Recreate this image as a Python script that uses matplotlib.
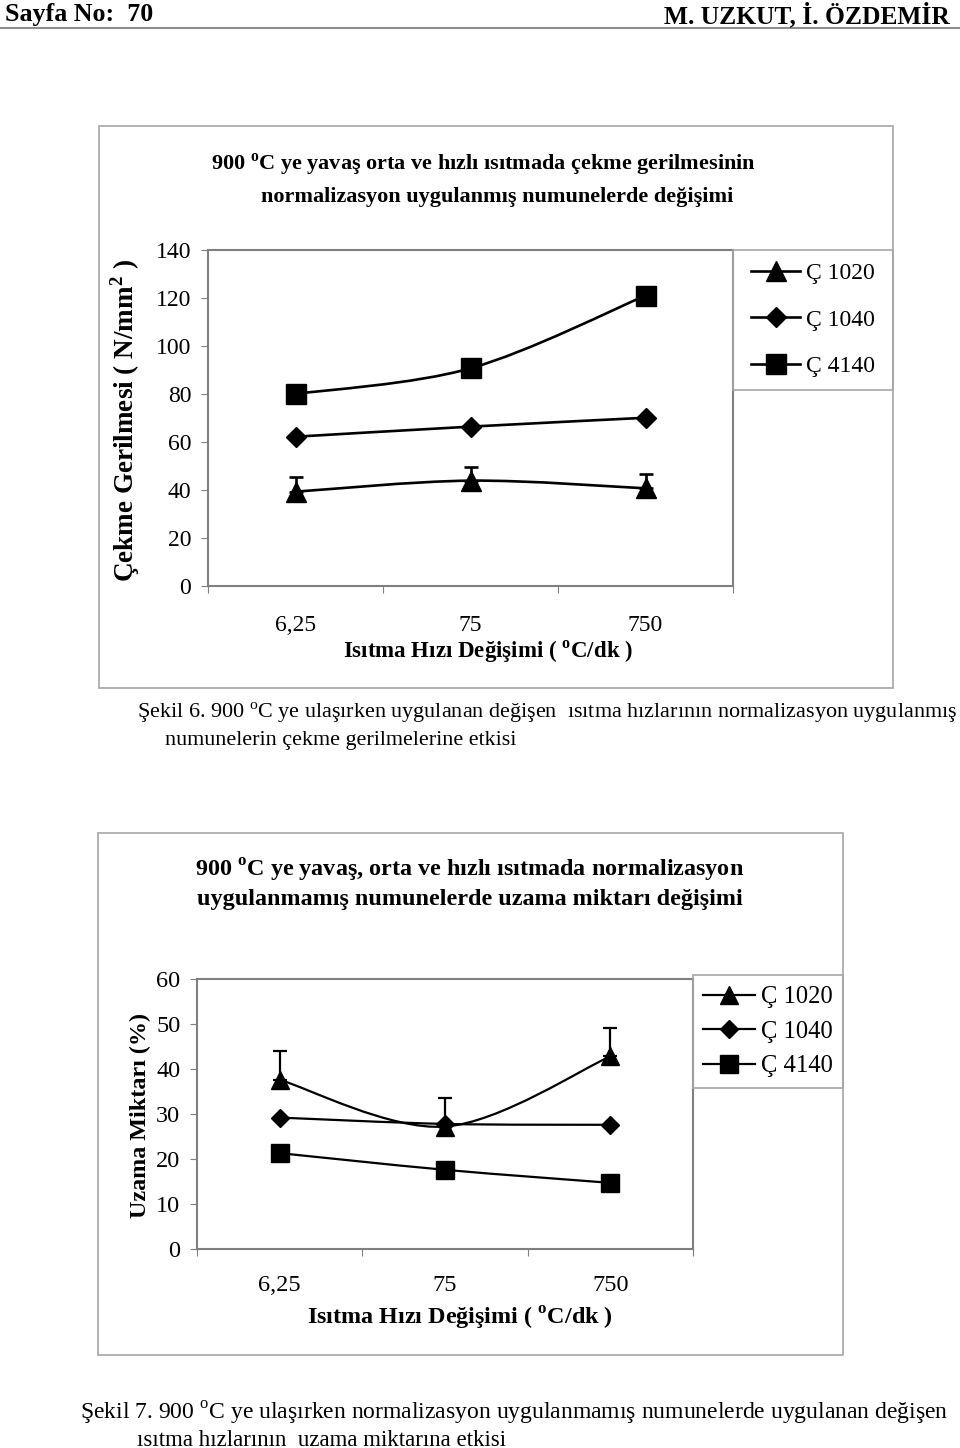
import numpy as np
import matplotlib
matplotlib.use('Agg')
import matplotlib.pyplot as plt
from matplotlib.path import Path
from matplotlib.patches import PathPatch, Rectangle
from matplotlib.lines import Line2D

plt.rcParams['font.family'] = ['Liberation Serif', 'DejaVu Serif']
plt.rcParams['mathtext.fontset'] = 'custom'
plt.rcParams['mathtext.rm'] = 'Liberation Serif'
plt.rcParams['mathtext.bf'] = 'Liberation Serif:bold'

# data
rates = ['6,25', '75', '750']
series = ['Ç 1020', 'Ç 1040', 'Ç 4140']

# Şekil 6 - tensile stress (N/mm2), normalized
c1020_stress = [39.3, 43.9, 40.7]
c1020_stress_err = [6.0, 5.8, 5.8]
c1040_stress = [62.2, 66.4, 70.1]
c4140_stress = [80.0, 90.7, 121.0]

# Şekil 7 - elongation (%), not normalized
c1020_elong = [37.6, 27.2, 42.8]
c1020_elong_err = [6.5, 6.4, 6.4]
c1040_elong = [29.2, 27.8, 27.6]
c4140_elong = [21.3, 17.6, 14.7]

W, H = 960, 1448
fig = plt.figure(figsize=(W / 100, H / 100), dpi=100)


def fx(x):
    return x / W


def fy(y):
    return 1 - y / H


def box(x0, y0, x1, y1, color='#a6a6a6', lw=1.2):
    fig.add_artist(Rectangle((fx(x0), fy(y1)), (x1 - x0) / W, (y1 - y0) / H,
                             transform=fig.transFigure, fill=False,
                             edgecolor=color, lw=lw))


def smooth(ax, xs, ys, lw):
    # excel-like smoothed line (catmull-rom as bezier)
    pts = np.column_stack([xs, ys]).astype(float)
    n = len(pts)
    verts = [pts[0]]
    codes = [Path.MOVETO]
    for i in range(n - 1):
        p0 = pts[i - 1] if i > 0 else pts[i]
        p1, p2 = pts[i], pts[i + 1]
        p3 = pts[i + 2] if i + 2 < n else p2
        verts += [p1 + (p2 - p0) / 6, p2 - (p3 - p1) / 6, p2]
        codes += [Path.CURVE4] * 3
    ax.add_patch(PathPatch(Path(verts, codes), fill=False, lw=lw,
                           edgecolor='k', zorder=2))


def make_axes(left, top, right, bottom, ymax, ystep, vals, errs, msz, lw,
              fs_tick, xlab_pad):
    ax = fig.add_axes([fx(left), fy(bottom), (right - left) / W, (bottom - top) / H])
    x = np.arange(len(rates))
    markers = ['^', 'D', 's']
    for v, m, s in zip(vals, markers, msz):
        smooth(ax, x, v, lw)
        ax.plot(x, v, ls='none', marker=m, ms=s, color='k', zorder=4)
    e = errs
    ax.errorbar(x, vals[0], yerr=[np.zeros(len(e)), e], fmt='none', ecolor='k',
                elinewidth=lw, capsize=5, capthick=lw, zorder=3)
    ax.set_xlim(-0.5, 2.5)
    ax.set_ylim(0, ymax)
    ax.set_yticks(np.arange(0, ymax + 1, ystep))
    ax.set_xticks([-0.5, 0.5, 1.5, 2.5])
    ax.set_xticklabels([])
    ax.set_xticks(x, minor=True)
    ax.set_xticklabels(rates, minor=True)
    ax.tick_params(axis='x', which='minor', length=0, pad=xlab_pad, labelsize=fs_tick)
    ax.tick_params(axis='x', which='major', length=5, color='#7f7f7f', direction='out')
    ax.tick_params(axis='y', length=5, color='#7f7f7f', labelsize=fs_tick, pad=7)
    for sp in ax.spines.values():
        sp.set_color('#7f7f7f')
        sp.set_linewidth(1.5)
    return ax


def legend(x0, y0, x1, y1, msz, lw, fs, spacing):
    box(x0, y0, x1, y1)
    handles = [Line2D([], [], color='k', lw=lw, marker=m, ms=s)
               for m, s in zip(['^', 'D', 's'], msz)]
    fig.legend(handles, series, loc='center', frameon=False, fontsize=fs,
               bbox_to_anchor=(fx((x0 + x1) / 2), fy((y0 + y1) / 2)),
               handlelength=2.1, handletextpad=0.25, labelspacing=spacing,
               borderpad=0, borderaxespad=0)


# header
fig.text(fx(5), fy(15), 'Sayfa No:  70', fontsize=18.7, fontweight='bold', va='center')
fig.text(fx(950), fy(15), 'M. UZKUT, İ. ÖZDEMİR', fontsize=18.4, fontweight='bold',
         va='center', ha='right')
fig.add_artist(Line2D([0, 1], [fy(28), fy(28)], color='#8c8c8c', lw=1.5,
                      transform=fig.transFigure))

# --- Şekil 6 ---
box(99, 126, 893, 688)
fig.text(fx(483), fy(165), '900 $^{\\mathbf{o}}$C ye yavaş orta ve hızlı ısıtmada çekme gerilmesinin',
         fontsize=16, fontweight='bold', ha='center', va='center')
fig.text(fx(497), fy(197), 'normalizasyon uygulanmış numunelerde değişimi',
         fontsize=16, fontweight='bold', ha='center', va='center')
make_axes(208, 250, 733, 586, 140, 20,
          [c1020_stress, c1040_stress, c4140_stress], c1020_stress_err,
          [15, 10.5, 15], 1.9, 17, 21)
fig.text(fx(125), fy(420), 'Çekme Gerilmesi ( N/mm$^{\\mathbf{2}}$ )', fontsize=19.5,
         fontweight='bold', rotation=90, ha='center', va='center')
fig.text(fx(488), fy(652), 'Isıtma Hızı Değişimi ( $^{\\mathbf{o}}$C/dk )', fontsize=16.5,
         fontweight='bold', ha='center', va='center')
legend(733, 250, 893, 390, [15, 10, 14], 1.9, 17, 1.05)

fig.text(fx(137), fy(713), 'Şekil 6. 900 $^{\\rm o}$C ye ulaşırken uygulanan değişen  ısıtma hızlarının normalizasyon uygulanmış',
         fontsize=15.9, va='center')
fig.text(fx(165), fy(740), 'numunelerin çekme gerilmelerine etkisi', fontsize=15.9, va='center')

# --- Şekil 7 ---
box(98, 833, 843, 1355)
fig.text(fx(470), fy(870), '900 $^{\\mathbf{o}}$C ye yavaş, orta ve hızlı ısıtmada normalizasyon',
         fontsize=17.4, fontweight='bold', ha='center', va='center')
fig.text(fx(470), fy(900), 'uygulanmamış numunelerde uzama miktarı değişimi',
         fontsize=17.4, fontweight='bold', ha='center', va='center')
make_axes(197, 979, 693, 1249, 60, 10,
          [c1020_elong, c1040_elong, c4140_elong], c1020_elong_err,
          [13, 9, 13], 1.6, 17.5, 19)
fig.text(fx(140), fy(1115), 'Uzama Miktarı (%)', fontsize=17.4, fontweight='bold',
         rotation=90, ha='center', va='center')
fig.text(fx(460), fy(1318), 'Isıtma Hızı Değişimi ( $^{\\mathbf{o}}$C/dk )', fontsize=17.4,
         fontweight='bold', ha='center', va='center')
legend(693, 975, 843, 1088, [13, 9, 13], 1.6, 17.7, 0.5)

fig.text(fx(80), fy(1413), 'Şekil 7. 900 $^{\\rm o}$C ye ulaşırken normalizasyon uygulanmamış numunelerde uygulanan değişen',
         fontsize=17, va='center')
fig.text(fx(137), fy(1440), 'ısıtma hızlarının  uzama miktarına etkisi', fontsize=16.5, va='center')

fig.savefig('out.png', dpi=100)
